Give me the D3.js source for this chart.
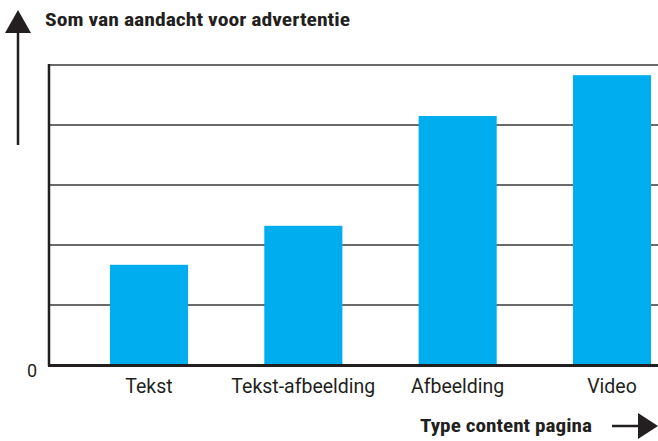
<!DOCTYPE html>
<html>
<head>
<meta charset="utf-8">
<script src="https://cdn.jsdelivr.net/npm/d3@7"></script>
<style>
  body { margin: 0; background: #fff; }
  svg text { font-family: "Roboto Condensed", "Liberation Sans Narrow", "Roboto", sans-serif; fill: #231f20; }
  svg text.lbl { font-family: "Roboto", "Liberation Sans", sans-serif; }
</style>
</head>
<body>
<div id="chart"></div>
<script>
const categories = ["Tekst", "Tekst-afbeelding", "Afbeelding", "Video"];
const values = [1.67, 2.32, 4.15, 4.83];
const yTicks = [0, 1, 2, 3, 4, 5];

const width = 658, height = 441;
const svg = d3.select("#chart").append("svg")
  .attr("width", width)
  .attr("height", height);

const x = d3.scaleBand()
  .domain(categories)
  .range([49, 712])
  .paddingInner(0.494)
  .paddingOuter(0.395);

const y = d3.scaleLinear()
  .domain([0, 5])
  .range([365, 65]);

// gridlines
svg.append("g")
  .selectAll("line")
  .data(yTicks.filter(d => d > 0))
  .enter().append("line")
  .attr("x1", 49)
  .attr("x2", width)
  .attr("y1", d => y(d))
  .attr("y2", d => y(d))
  .attr("stroke", "#3a3a3a")
  .attr("stroke-width", 1.6);

// bars
svg.append("g")
  .selectAll("rect")
  .data(values)
  .enter().append("rect")
  .attr("x", (d, i) => x(categories[i]))
  .attr("y", d => y(d))
  .attr("width", x.bandwidth())
  .attr("height", d => y(0) - y(d))
  .attr("fill", "#00adef");

// left axis + baseline
svg.append("line")
  .attr("x1", 49).attr("x2", 49)
  .attr("y1", y(5) - 1).attr("y2", y(0) + 1)
  .attr("stroke", "#231f20").attr("stroke-width", 2.5);
svg.append("line")
  .attr("x1", 48).attr("x2", width)
  .attr("y1", y(0) + 0.5).attr("y2", y(0) + 0.5)
  .attr("stroke", "#231f20").attr("stroke-width", 3);

svg.append("text")
  .attr("class", "lbl")
  .attr("x", 32).attr("y", y(0) + 12)
  .attr("text-anchor", "middle")
  .style("font-size", "18px")
  .text("0");

// category labels
svg.append("g")
  .selectAll("text")
  .data(categories)
  .enter().append("text")
  .attr("class", "lbl")
  .attr("x", d => x(d) + x.bandwidth() / 2)
  .attr("y", 393)
  .attr("text-anchor", "middle")
  .style("font-size", "19.5px")
  .text(d => d);

// y axis title with arrow
svg.append("line")
  .attr("x1", 18).attr("x2", 18)
  .attr("y1", 30).attr("y2", 145)
  .attr("stroke", "#231f20").attr("stroke-width", 2.5);
svg.append("path")
  .attr("d", "M18,10 L31,33 L5,33 Z")
  .attr("fill", "#231f20");
svg.append("text")
  .attr("x", 45).attr("y", 26)
  .style("font-size", "19px")
  .style("font-weight", "bold")
  .attr("textLength", 305)
  .attr("lengthAdjust", "spacingAndGlyphs")
  .text("Som van aandacht voor advertentie");

// x axis title with arrow
svg.append("text")
  .attr("x", 420).attr("y", 432)
  .style("font-size", "19px")
  .style("font-weight", "bold")
  .attr("textLength", 172)
  .attr("lengthAdjust", "spacingAndGlyphs")
  .text("Type content pagina");
svg.append("line")
  .attr("x1", 612).attr("x2", 642)
  .attr("y1", 426).attr("y2", 426)
  .attr("stroke", "#231f20").attr("stroke-width", 2.5);
svg.append("path")
  .attr("d", "M658,426 L638,413 L638,439 Z")
  .attr("fill", "#231f20");
</script>
</body>
</html>
